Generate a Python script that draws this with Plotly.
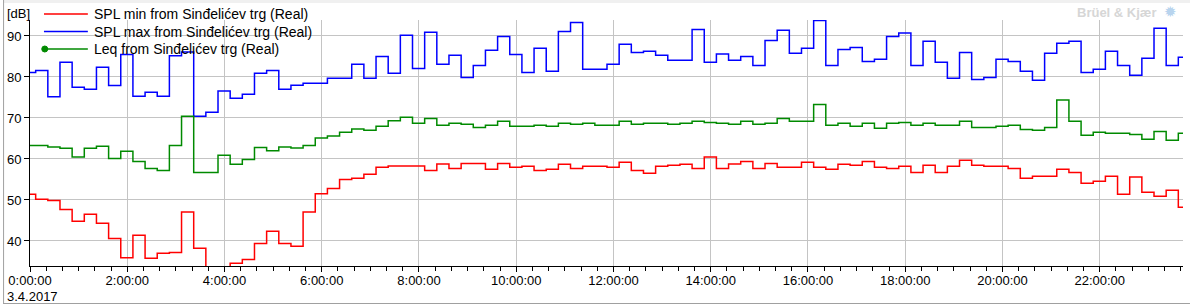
import plotly.graph_objects as go

# ---------------- data ----------------
# interval start times (minutes after midnight): first partial interval at 0:00, then every 15 min from 0:07
start_minutes = [0] + [7 + 15 * k for k in range(95)]
end_minute = 1432  # end of the last interval (23:52)

spl_min = [51.4, 50.2, 49.9, 47.7, 44.8, 46.5, 44.3, 40.6, 35.9, 41.4,
           35.8, 37.0, 37.2, 47.1, 38.2, 32.5, 33.0, 34.6, 35.5, 39.4,
           42.4, 39.4, 38.7, 47.1, 51.5, 52.8, 55.0, 55.3, 56.3, 58.0,
           58.3, 58.3, 58.3, 57.2, 58.8, 57.7, 58.9, 58.9, 57.5, 58.9,
           58.0, 58.2, 57.2, 57.5, 58.7, 57.7, 58.2, 58.2, 58.0, 59.2,
           57.2, 56.5, 58.2, 58.5, 58.7, 57.7, 60.5, 57.7, 58.8, 59.4,
           57.7, 58.9, 58.0, 58.0, 59.2, 58.0, 57.5, 58.7, 58.5, 59.4,
           58.0, 57.7, 58.2, 56.7, 58.5, 56.7, 58.2, 59.7, 58.5, 58.2,
           58.2, 57.7, 55.3, 55.8, 55.8, 57.5, 56.7, 54.1, 54.6, 55.8,
           51.4, 55.6, 51.9, 50.9, 52.4, 48.2]

spl_max = [81.1, 81.6, 75.2, 83.6, 77.5, 77.0, 82.4, 77.9, 85.5, 75.3,
           76.3, 75.3, 85.2, 86.1, 70.4, 71.4, 76.6, 74.8, 75.8, 80.9,
           81.6, 77.0, 78.0, 78.5, 78.5, 79.7, 79.7, 83.1, 79.7, 85.0,
           80.9, 90.2, 82.1, 90.9, 83.1, 85.3, 79.9, 82.8, 86.5, 89.9,
           85.5, 81.1, 87.0, 81.4, 91.1, 93.3, 81.9, 81.9, 83.1, 88.0,
           86.0, 86.3, 85.3, 84.1, 84.1, 91.6, 83.6, 85.6, 84.1, 85.0,
           82.8, 88.9, 91.4, 85.8, 87.0, 93.8, 82.8, 86.7, 87.2, 83.8,
           84.3, 89.9, 90.7, 82.8, 88.7, 83.6, 79.7, 86.0, 79.4, 79.9,
           84.3, 83.8, 81.4, 79.2, 85.8, 88.2, 88.7, 81.1, 81.9, 86.3,
           82.8, 80.4, 84.6, 91.9, 82.8, 84.8]

leq = [63.3, 63.3, 62.9, 62.6, 60.5, 62.6, 63.1, 60.1, 61.9, 59.4,
       57.7, 57.2, 63.3, 70.4, 56.7, 56.7, 60.9, 58.7, 59.9, 62.8,
       62.0, 62.9, 62.7, 63.3, 65.1, 65.6, 66.5, 67.3, 67.0, 68.0,
       69.3, 70.2, 68.7, 69.9, 68.2, 68.7, 68.5, 67.7, 68.2, 69.2,
       68.0, 68.0, 68.2, 68.0, 68.7, 68.5, 68.7, 68.2, 68.2, 69.2,
       68.5, 68.7, 68.7, 68.5, 68.7, 69.2, 68.9, 68.7, 68.5, 69.2,
       68.5, 68.7, 69.9, 69.2, 69.2, 73.3, 68.2, 68.7, 68.0, 68.7,
       67.5, 68.7, 68.9, 68.2, 68.7, 68.2, 68.2, 69.2, 67.7, 67.7,
       68.0, 68.2, 67.2, 67.0, 67.7, 74.4, 69.2, 65.8, 66.5, 66.3,
       66.3, 66.0, 64.8, 66.7, 64.6, 66.3]

series_names = ["SPL min from Sinđelićev trg (Real)",
                "SPL max from Sinđelićev trg (Real)",
                "Leq from Sinđelićev trg (Real)"]
series_colors = ["#ff0000", "#0000ff", "#008a00"]
legend_has_marker = [False, False, True]

x_tickvals = [0, 2, 4, 6, 8, 10, 12, 14, 16, 18, 20, 22]
x_ticktext = ["0:00:00", "2:00:00", "4:00:00", "6:00:00", "8:00:00", "10:00:00",
              "12:00:00", "14:00:00", "16:00:00", "18:00:00", "20:00:00", "22:00:00"]
y_tickvals = [40, 50, 60, 70, 80, 90]
date_label = "3.4.2017"
unit_label = "[dB]"
brand_label = "Brüel & Kjær"

# ---------------- figure ----------------
x_hours = [m / 60 for m in start_minutes] + [end_minute / 60]

def stepped(vals):
    return list(vals) + [vals[-1]]

FONT = "Tahoma, 'Liberation Sans', Arial, sans-serif"

fig = go.Figure()
for vals, name, color in zip([spl_min, spl_max, leq], series_names, series_colors):
    fig.add_trace(go.Scatter(x=x_hours, y=stepped(vals), mode="lines", line_shape="hv",
                             line=dict(color=color, width=1.5), name=name,
                             showlegend=False))

L, R, T, B = 27, 7, 20, 39
W, H = 1190, 305
pw, ph = W - L - R, H - T - B

def px_x(px):
    return (px - L) / pw

def px_y(py):
    return (H - B - py) / ph

fig.update_layout(
    width=W, height=H,
    margin=dict(l=L, r=R, t=T, b=B, pad=0),
    paper_bgcolor="white", plot_bgcolor="white",
    font=dict(family=FONT, size=13, color="#000000"),
    showlegend=False,
    xaxis=dict(range=[0, (W - R - L) / 48.75], tickmode="array",
               tickvals=x_tickvals, ticktext=x_ticktext,
               showgrid=True, gridcolor="#c4c4c4", gridwidth=1, zeroline=False,
               showline=True, linecolor="#000000", linewidth=1,
               ticks="outside", ticklen=5, tickcolor="#000000", tickwidth=1,
               ticklabelstandoff=-3,
               tickfont=dict(family=FONT, size=13, color="#000000"),
               minor=dict(tickmode="linear", tick0=0, dtick=1/3, ticks="outside",
                          ticklen=4, tickcolor="#000000", showgrid=False)),
    yaxis=dict(range=[33.9, 93.9], tickmode="array", tickvals=y_tickvals,
               showgrid=True, gridcolor="#c4c4c4", gridwidth=1, zeroline=False,
               showline=True, linecolor="#000000", linewidth=1,
               ticks="outside", ticklen=5, tickcolor="#000000", tickwidth=1,
               tickfont=dict(family=FONT, size=13, color="#000000")),
)

# legend (drawn as line samples + labels, like the original chart)
legend_rows_px = [14, 31.5, 49]
for row_y, name, color, has_marker in zip(legend_rows_px, series_names, series_colors, legend_has_marker):
    fig.add_shape(type="line", xref="paper", yref="paper",
                  x0=px_x(41), x1=px_x(85), y0=px_y(row_y), y1=px_y(row_y),
                  line=dict(color=color, width=1.5))
    if has_marker:
        fig.add_shape(type="circle", xref="paper", yref="paper",
                      x0=px_x(38.8), x1=px_x(44.8), y0=px_y(row_y + 3), y1=px_y(row_y - 3),
                      fillcolor=color, line=dict(color=color, width=1))
    fig.add_annotation(text=name, xref="paper", yref="paper",
                       x=px_x(89), y=px_y(row_y), xanchor="left", yanchor="middle",
                       showarrow=False, font=dict(family=FONT, size=14, color="#000000"))

# frame of the window
fig.add_shape(type="rect", xref="paper", yref="paper",
              x0=px_x(0), x1=px_x(W), y0=px_y(3), y1=px_y(0),
              fillcolor="#f0f0f0", line=dict(width=0), layer="below")
fig.add_shape(type="line", xref="paper", yref="paper",
              x0=px_x(0.5), x1=px_x(0.5), y0=px_y(0), y1=px_y(304),
              line=dict(color="#a0a0a0", width=1))
fig.add_shape(type="line", xref="paper", yref="paper",
              x0=px_x(0), x1=px_x(W), y0=px_y(303.5), y1=px_y(303.5),
              line=dict(color="#a0a0a0", width=1))

fig.add_annotation(text=unit_label, xref="paper", yref="paper",
                   x=px_x(2), y=px_y(14), xanchor="left", yanchor="middle",
                   showarrow=False, font=dict(family=FONT, size=13, color="#000000"))
fig.add_annotation(text=date_label, xref="paper", yref="paper",
                   x=px_x(2), y=px_y(296), xanchor="left", yanchor="middle",
                   showarrow=False, font=dict(family=FONT, size=13, color="#000000"))
fig.add_annotation(text="<b>" + brand_label + "</b>", xref="paper", yref="paper",
                   x=px_x(1158), y=px_y(12), xanchor="right", yanchor="middle",
                   showarrow=False, font=dict(family=FONT, size=13, color="#d6d6d6"))
fig.add_annotation(text="✹", xref="paper", yref="paper",
                   x=px_x(1170), y=px_y(12), xanchor="center", yanchor="middle",
                   showarrow=False, font=dict(family="DejaVu Sans", size=15, color="#b8d4ee"))

fig.write_html("out.html", config={"displayModeBar": False})
